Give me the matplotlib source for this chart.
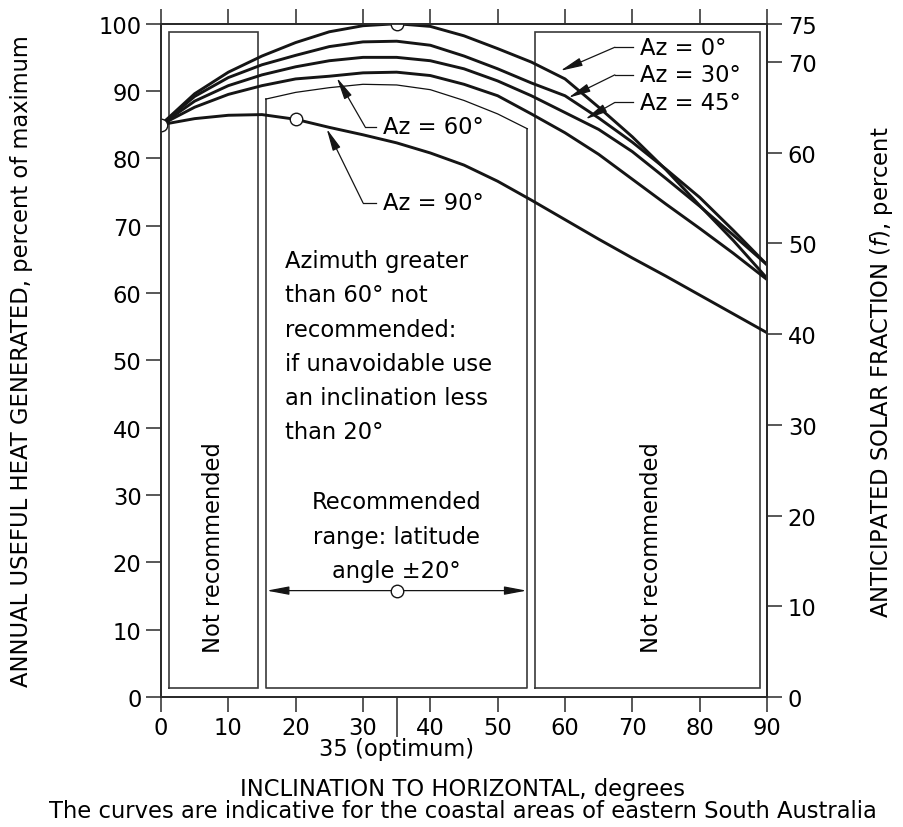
import matplotlib
matplotlib.use('Agg')
import matplotlib.pyplot as plt

# ---------------- data ----------------
inclination = [0, 5, 10, 15, 20, 25, 30, 35, 40, 45, 50, 55, 60, 65, 70, 75, 80, 85, 90]
az0  = [85.0, 89.6, 92.8, 95.2, 97.2, 98.8, 99.7, 100.0, 99.6, 98.2, 96.3, 94.3, 91.8, 87.6, 83.2, 78.3, 73.0, 67.8, 62.2]
az30 = [85.0, 89.2, 92.0, 93.9, 95.3, 96.6, 97.3, 97.4, 96.8, 95.2, 93.3, 91.2, 89.3, 86.0, 82.4, 78.4, 74.2, 69.3, 64.2]
az45 = [85.0, 88.5, 90.8, 92.4, 93.6, 94.5, 95.0, 95.0, 94.5, 93.3, 91.5, 89.3, 86.8, 84.3, 81.0, 77.0, 72.9, 68.6, 64.2]
az60 = [85.0, 87.6, 89.5, 90.8, 91.8, 92.2, 92.7, 92.8, 92.3, 91.0, 89.3, 86.6, 83.8, 80.6, 76.9, 73.2, 69.6, 65.9, 62.0]
az90 = [85.0, 85.9, 86.4, 86.5, 85.8, 84.6, 83.5, 82.3, 80.8, 79.0, 76.6, 73.8, 70.9, 68.0, 65.2, 62.5, 59.7, 56.9, 54.1]

# outline of the "recommended" region top (thin curve)
rec_top_x = [15.55, 20, 25, 30, 35, 40, 45, 50, 54.4]
rec_top_y = [88.8, 89.8, 90.5, 91.0, 90.9, 90.2, 88.6, 86.6, 84.4]

left_ticks = list(range(0, 101, 10))
right_ticks = [0, 10, 20, 30, 40, 50, 60, 70, 74.2]
right_labels = ['0', '10', '20', '30', '40', '50', '60', '70', '75']
x_ticks = list(range(0, 91, 10))

# marked points (open circles)
circle_x = [0, 35, 20, 35]
circle_y = [85.0, 100.0, 85.8, 15.8]

# ---------------- figure ----------------
FS = 16.3
plt.rcParams['font.family'] = ['DejaVu Sans']
fig = plt.figure(figsize=(9.04, 8.28), dpi=100)
ax = fig.add_axes([161/904, 1-698/828, (767-161)/904, (698-24.7)/828])
ax.set_xlim(0, 90)
ax.set_ylim(0, 100)

spine_c = '#2a2a2a'
for s in ax.spines.values():
    s.set_color(spine_c)
    s.set_linewidth(1.3)

ax.set_xticks(x_ticks)
ax.set_yticks(left_ticks)
ax.tick_params(which='major', direction='out', length=11, width=1.1, color=spine_c,
               labelsize=FS, top=True, labeltop=False, pad=3)
ax.set_xticks([35], minor=True)
ax.set_xticklabels(['35 (optimum)'], minor=True)
ax.tick_params(axis='x', which='minor', direction='out', length=29, width=1.1,
               color=spine_c, labelsize=FS, top=False, pad=0)

ax2 = ax.twinx()
ax2.set_ylim(0, 74.2)
ax2.set_yticks(right_ticks)
ax2.set_yticklabels(right_labels)
ax2.tick_params(direction='out', length=11, width=1.1, color=spine_c, labelsize=FS, pad=4)
for s in ax2.spines.values():
    s.set_color(spine_c)
    s.set_linewidth(1.3)

# ---------------- region boxes ----------------
box_c = '#3a3a3a'
box_lw = 1.2
left_box = (1.2, 14.4)
right_box = (55.6, 88.9)
box_bottom, box_top = 1.4, 98.8
for (x0, x1) in (left_box, right_box):
    ax.plot([x0, x0, x1, x1, x0], [box_bottom, box_top, box_top, box_bottom, box_bottom],
            color=box_c, lw=box_lw, solid_joinstyle='miter')
ax.plot([rec_top_x[-1], rec_top_x[-1], rec_top_x[0], rec_top_x[0]],
        [rec_top_y[-1], box_bottom, box_bottom, rec_top_y[0]], color=box_c, lw=box_lw)
ax.plot(rec_top_x, rec_top_y, color='#111111', lw=0.9)

# ---------------- curves ----------------
for ys in (az0, az30, az45, az60, az90):
    ax.plot(inclination, ys, color='#151515', lw=2.1, solid_capstyle='butt')

ax.plot(circle_x, circle_y, 'o', ms=9, mfc='white', mec='#151515', mew=1.0, zorder=5)

# ---------------- labels with leaders ----------------
arrow_kw = dict(arrowstyle='-|>,head_length=0.9,head_width=0.17', color='#151515',
                lw=0.9, shrinkA=0, shrinkB=0, mutation_scale=15)

def leader(label, text_xy, corner_x, tip):
    tx, ty = text_xy
    ax.plot([corner_x, tx - 1.0], [ty, ty], color='#151515', lw=0.9)
    ax.annotate('', xy=tip, xytext=(corner_x, ty), arrowprops=arrow_kw)
    ax.text(tx, ty, label, fontsize=FS, ha='left', va='center')

leader('Az = 0°', (71.1, 96.5), 67.4, (59.3, 93.0))
leader('Az = 30°', (71.1, 92.4), 67.4, (60.5, 89.0))
leader('Az = 45°', (71.1, 88.3), 67.4, (63.0, 85.8))
leader('Az = 60°', (33.0, 84.7), 30.3, (26.1, 92.0))
leader('Az = 90°', (33.0, 73.4), 30.0, (24.6, 84.4))

# recommended range arrow
rng_kw = dict(arrowstyle='-|>,head_length=0.9,head_width=0.17', color='#151515',
              lw=0.9, shrinkA=0, shrinkB=0, mutation_scale=15)
ax.annotate('', xy=(15.7, 15.8), xytext=(35, 15.8), arrowprops=rng_kw)
ax.annotate('', xy=(54.3, 15.8), xytext=(35, 15.8), arrowprops=rng_kw)

ax.text(35, 23.9, 'Recommended\nrange: latitude\nangle ±20°', fontsize=FS,
        ha='center', va='center', linespacing=1.62)
ax.text(18.4, 52.1, 'Azimuth greater\nthan 60° not\nrecommended:\nif unavoidable use\nan inclination less\nthan 20°',
        fontsize=FS, ha='left', va='center', linespacing=1.62)
ax.text(7.8, 22.3, 'Not recommended', rotation=90, fontsize=FS, ha='center', va='center')
ax.text(72.9, 22.3, 'Not recommended', rotation=90, fontsize=FS, ha='center', va='center')

# ---------------- axis titles ----------------
fig.text(22/904, 1-361/828, 'ANNUAL USEFUL HEAT GENERATED, percent of maximum',
         rotation=90, ha='center', va='center', fontsize=FS)
fig.text(882/904, 1-372/828, r'ANTICIPATED SOLAR FRACTION ($\it{f}$), percent',
         rotation=90, ha='center', va='center', fontsize=FS)
fig.text(463/904, 1-790/828, 'INCLINATION TO HORIZONTAL, degrees',
         ha='center', va='center', fontsize=FS)
fig.text(463/904, 1-812/828, 'The curves are indicative for the coastal areas of eastern South Australia',
         ha='center', va='center', fontsize=FS)

fig.savefig('out.png', dpi=100, facecolor='white')
